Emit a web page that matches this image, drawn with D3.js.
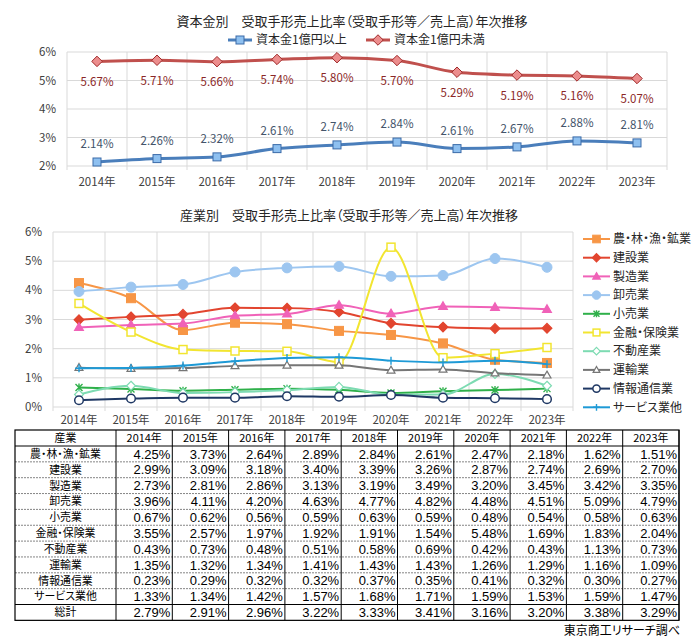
<!DOCTYPE html>
<html><head><meta charset="utf-8">
<script src="https://cdn.jsdelivr.net/npm/d3@7"></script>
<style>
html,body{margin:0;padding:0;background:#fff;}
svg text{font-family:"Noto Sans CJK JP","Noto Sans",sans-serif;font-feature-settings:"palt";}
svg text.num{font-family:"Liberation Sans","Noto Sans",sans-serif;}
</style></head>
<body><svg id="c" width="700" height="644"></svg>
<script>
// ---------- data ----------
const years = ["2014年","2015年","2016年","2017年","2018年","2019年","2020年","2021年","2022年","2023年"];
const capitalNames = ["資本金1億円以上","資本金1億円未満"];
const capitalLarge = [2.14,2.26,2.32,2.61,2.74,2.84,2.61,2.67,2.88,2.81];
const capitalSmall = [5.67,5.71,5.66,5.74,5.80,5.70,5.29,5.19,5.16,5.07];
const topTicks = [2,3,4,5,6];

const industries = ["農・林・漁・鉱業","建設業","製造業","卸売業","小売業","金融・保険業","不動産業","運輸業","情報通信業","サービス業他"];
const agri      = [4.25,3.73,2.64,2.89,2.84,2.61,2.47,2.18,1.62,1.51];
const constr    = [2.99,3.09,3.18,3.40,3.39,3.26,2.87,2.74,2.69,2.70];
const manuf     = [2.73,2.81,2.86,3.13,3.19,3.49,3.20,3.45,3.42,3.35];
const wholesale = [3.96,4.11,4.20,4.63,4.77,4.82,4.48,4.51,5.09,4.79];
const retail    = [0.67,0.62,0.56,0.59,0.63,0.59,0.48,0.54,0.58,0.63];
const finance   = [3.55,2.57,1.97,1.92,1.91,1.54,5.48,1.69,1.83,2.04];
const realEst   = [0.43,0.73,0.48,0.51,0.58,0.69,0.42,0.43,1.13,0.73];
const transport = [1.35,1.32,1.34,1.41,1.43,1.43,1.26,1.29,1.16,1.09];
const infoComm  = [0.23,0.29,0.32,0.32,0.37,0.35,0.41,0.32,0.30,0.27];
const services  = [1.33,1.34,1.42,1.57,1.68,1.71,1.59,1.53,1.59,1.47];
const totalName = "総計";
const total     = [2.79,2.91,2.96,3.22,3.33,3.41,3.16,3.20,3.38,3.29];
const bottomTicks = [0,1,2,3,4,5,6];
const industrySeries = [agri,constr,manuf,wholesale,retail,finance,realEst,transport,infoComm,services];

const topTitle = "資本金別\u3000受取手形売上比率（受取手形等／売上高）年次推移";
const bottomTitle = "産業別\u3000受取手形売上比率（受取手形等／売上高）年次推移";
const tableHeader = "産業";
const source = "東京商工リサーチ調べ";

// ---------- styles ----------
const grid = "#d9d9d9";
const txt = "#404040";
const svg = d3.select("#c");
const fmt = v => v.toFixed(2) + "%";

// ---------- top chart ----------
const xT = d3.scaleBand().domain(years).range([67,667]).padding(0);
const yT = d3.scaleLinear().domain([2,6]).range([166,52]);
const gT = svg.append("g");
gT.selectAll("line.h").data(topTicks).join("line")
  .attr("x1",67).attr("x2",667).attr("y1",d=>yT(d)).attr("y2",d=>yT(d)).attr("stroke",grid);
const xEdgesT = years.map(y=>xT(y)).concat([667]);
gT.selectAll("line.v").data(xEdgesT).join("line")
  .attr("x1",d=>d).attr("x2",d=>d).attr("y1",52).attr("y2",170).attr("stroke",grid);
gT.selectAll("text.yl").data(topTicks).join("text")
  .attr("x",56).attr("y",d=>yT(d)).attr("dy","0.35em").attr("text-anchor","end")
  .attr("font-size",11.5).attr("fill",txt).text(d=>d+"%");
gT.selectAll("text.xl").data(years).join("text")
  .attr("x",d=>xT(d)+xT.bandwidth()/2).attr("y",182).attr("dy","0.35em").attr("text-anchor","middle")
  .attr("font-size",11.5).attr("fill",txt).text(d=>d);
svg.append("text").attr("x",352).attr("y",21).attr("dy","0.35em").attr("text-anchor","middle")
  .attr("font-size",13).attr("fill","#262626").text(topTitle);

const cx = (i)=>xT(years[i])+xT.bandwidth()/2;
const lineT = d3.line().x((d,i)=>cx(i)).y(d=>yT(d)).curve(d3.curveMonotoneX);
const topDefs = [
  {vals:capitalLarge, line:"#4a7ebb", fill:"#8ec0f0", stroke:"#3a6aa8", label:"#44546a", shape:"sq", off:-18},
  {vals:capitalSmall, line:"#c0504d", fill:"#ec8d8d", stroke:"#a02a2a", label:"#8b2727", shape:"di", off:20.5}
];
topDefs.forEach(s=>{
  gT.append("path").attr("d",lineT(s.vals)).attr("fill","none").attr("stroke",s.line).attr("stroke-width",3);
  s.vals.forEach((v,i)=>{
    if(s.shape==="sq"){
      gT.append("rect").attr("x",cx(i)-4).attr("y",yT(v)-4).attr("width",8).attr("height",8)
        .attr("fill",s.fill).attr("stroke",s.stroke).attr("stroke-width",1);
    } else {
      gT.append("path").attr("d",d3.symbol(d3.symbolDiamond2, 70)()).attr("transform",`translate(${cx(i)},${yT(v)}) `)
        .attr("fill",s.fill).attr("stroke",s.stroke).attr("stroke-width",1);
    }
    gT.append("text").attr("x",cx(i)).attr("y",yT(v)+s.off).attr("dy","0.35em").attr("text-anchor","middle")
      .attr("font-size",11.5).attr("fill",s.label).text(fmt(v));
  });
});
// top legend
const legT = [{x:228,name:capitalNames[0],d:topDefs[0]},{x:366,name:capitalNames[1],d:topDefs[1]}];
legT.forEach(l=>{
  const y=40;
  svg.append("line").attr("x1",l.x).attr("x2",l.x+24).attr("y1",y).attr("y2",y).attr("stroke",l.d.line).attr("stroke-width",3);
  if(l.d.shape==="sq") svg.append("rect").attr("x",l.x+8).attr("y",y-4).attr("width",8).attr("height",8).attr("fill",l.d.fill).attr("stroke",l.d.stroke);
  else svg.append("path").attr("d",d3.symbol(d3.symbolDiamond2,70)()).attr("transform",`translate(${l.x+12},${y})`).attr("fill",l.d.fill).attr("stroke",l.d.stroke);
  svg.append("text").attr("x",l.x+28).attr("y",y).attr("dy","0.35em").attr("font-size",12).attr("fill","#262626").text(l.name);
});

// ---------- bottom chart ----------
const xB = d3.scaleBand().domain(years).range([53,573]).padding(0);
const yB = d3.scaleLinear().domain([0,6]).range([407,232]);
const gB = svg.append("g");
gB.selectAll("line.h").data(bottomTicks).join("line")
  .attr("x1",53).attr("x2",573).attr("y1",d=>yB(d)).attr("y2",d=>yB(d)).attr("stroke",grid);
const xEdgesB = years.map(y=>xB(y)).concat([573]);
gB.selectAll("line.v").data(xEdgesB).join("line")
  .attr("x1",d=>d).attr("x2",d=>d).attr("y1",232).attr("y2",411).attr("stroke",grid);
gB.selectAll("text.yl").data(bottomTicks).join("text")
  .attr("x",42).attr("y",d=>yB(d)).attr("dy","0.35em").attr("text-anchor","end")
  .attr("font-size",11.5).attr("fill",txt).text(d=>d+"%");
gB.selectAll("text.xl").data(years).join("text")
  .attr("x",d=>xB(d)+xB.bandwidth()/2).attr("y",420).attr("dy","0.35em").attr("text-anchor","middle")
  .attr("font-size",11.5).attr("fill",txt).text(d=>d);
svg.append("text").attr("x",349).attr("y",215).attr("dy","0.35em").attr("text-anchor","middle")
  .attr("font-size",13).attr("fill","#262626").text(bottomTitle);

const bStyles = [
  {c:"#f79646", m:"square", fill:true},
  {c:"#e2452f", m:"diamond", fill:true},
  {c:"#f062b8", m:"triangle", fill:true},
  {c:"#9dc6f0", m:"circle", fill:true},
  {c:"#2fb04a", m:"star"},
  {c:"#f2e530", m:"square", fill:false},
  {c:"#7ddbb2", m:"diamond", fill:false},
  {c:"#767676", m:"triangle", fill:false},
  {c:"#1f3864", m:"circle", fill:false},
  {c:"#1e9ad6", m:"plus"}
];
function marker(g, st, x, y, scale){
  scale = scale||1;
  const f = st.fill ? st.c : "#fff";
  if(st.m==="square"){
    const s=(st.fill?9:8)*scale;
    g.append("rect").attr("x",x-s/2).attr("y",y-s/2).attr("width",s).attr("height",s).attr("fill",f).attr("stroke",st.c).attr("stroke-width",st.fill?1:1.5);
  } else if(st.m==="diamond"){
    g.append("path").attr("d",d3.symbol(d3.symbolDiamond2,(st.fill?60:50)*scale*scale)()).attr("transform",`translate(${x},${y})`).attr("fill",f).attr("stroke",st.c).attr("stroke-width",1.2);
  } else if(st.m==="triangle"){
    g.append("path").attr("d",d3.symbol(d3.symbolTriangle2,(st.fill?55:45)*scale*scale)()).attr("transform",`translate(${x},${y+0.5})`).attr("fill",f).attr("stroke",st.c).attr("stroke-width",1.2);
  } else if(st.m==="circle"){
    g.append("circle").attr("cx",x).attr("cy",y).attr("r",(st.fill?5:4.3)*scale).attr("fill",f).attr("stroke",st.c).attr("stroke-width",st.fill?1:1.5);
  } else if(st.m==="star"){
    const r=3.5*scale;
    g.append("path").attr("d",`M${x-r},${y-r}L${x+r},${y+r}M${x-r},${y+r}L${x+r},${y-r}M${x},${y-r-0.5}L${x},${y+r+0.5}`).attr("stroke",st.c).attr("stroke-width",1.4).attr("fill","none");
  } else if(st.m==="plus"){
    const r=4*scale;
    g.append("path").attr("d",`M${x-r},${y}L${x+r},${y}M${x},${y-r}L${x},${y+r}`).attr("stroke",st.c).attr("stroke-width",1.4).attr("fill","none");
  }
}
const cxB = i=>xB(years[i])+xB.bandwidth()/2;
const lineB = d3.line().x((d,i)=>cxB(i)).y(d=>yB(d)).curve(d3.curveMonotoneX);
industrySeries.forEach((vals,k)=>{
  const st=bStyles[k];
  gB.append("path").attr("d",lineB(vals)).attr("fill","none").attr("stroke",st.c).attr("stroke-width",2);
  vals.forEach((v,i)=>marker(gB,st,cxB(i),yB(v)));
});
// bottom legend
industries.forEach((name,k)=>{
  const y=239+k*18.7, st=bStyles[k];
  svg.append("line").attr("x1",583).attr("x2",610).attr("y1",y).attr("y2",y).attr("stroke",st.c).attr("stroke-width",2);
  marker(svg,st,596.5,y,0.85);
  svg.append("text").attr("x",613).attr("y",y).attr("dy","0.35em").attr("font-size",12).attr("fill","#262626").text(name);
});

// ---------- table ----------
const tL=15, tT=430, c0=101, cw=56.3, hH=16, rH=15.85;
const rowsNames = industries.concat([totalName]);
const rowsVals = industrySeries.concat([total]);
const tR = tL+c0+cw*years.length;
const tB = tT+hH+rH*rowsNames.length;
const gTab = svg.append("g");
// header
gTab.append("text").attr("x",tL+c0/2).attr("y",tT+hH/2).attr("dy","0.36em").attr("text-anchor","middle").attr("font-size",10.9).text(tableHeader);
years.forEach((y,j)=>gTab.append("text").attr("x",tL+c0+cw*j+cw/2).attr("y",tT+hH/2).attr("dy","0.36em").attr("text-anchor","middle").attr("font-size",10.9).text(y));
rowsNames.forEach((n,r)=>{
  const yc=tT+hH+rH*r+rH/2;
  gTab.append("text").attr("x",tL+c0/2).attr("y",yc).attr("dy","0.36em").attr("text-anchor","middle").attr("font-size",10.9).text(n);
  rowsVals[r].forEach((v,j)=>gTab.append("text").attr("class","num").attr("x",tL+c0+cw*(j+1)-2).attr("y",yc).attr("dy","0.36em").attr("text-anchor","end").attr("font-size",13).text(fmt(v)));
});
// row separators
for(let r=1;r<rowsNames.length;r++){
  const y=tT+hH+rH*r;
  const last = r===rowsNames.length-1;
  gTab.append("line").attr("x1",tL).attr("x2",tR).attr("y1",y).attr("y2",y)
    .attr("stroke",last?"#000":"#666").attr("stroke-width",last?1:0.8).attr("stroke-dasharray",last?null:"2,1");
}
gTab.append("line").attr("x1",tL).attr("x2",tR).attr("y1",tT+hH).attr("y2",tT+hH).attr("stroke","#000");
for(let j=0;j<=years.length;j++){
  const x=tL+c0+cw*j;
  gTab.append("line").attr("x1",x).attr("x2",x).attr("y1",tT).attr("y2",tB).attr("stroke","#000").attr("stroke-width",1);
}
gTab.append("rect").attr("x",tL).attr("y",tT).attr("width",tR-tL).attr("height",tB-tT).attr("fill","none").attr("stroke","#000").attr("stroke-width",1.2);
svg.append("text").attr("x",680).attr("y",631).attr("dy","0.35em").attr("text-anchor","end").attr("font-size",12).attr("fill","#000").text(source);
</script></body></html>
